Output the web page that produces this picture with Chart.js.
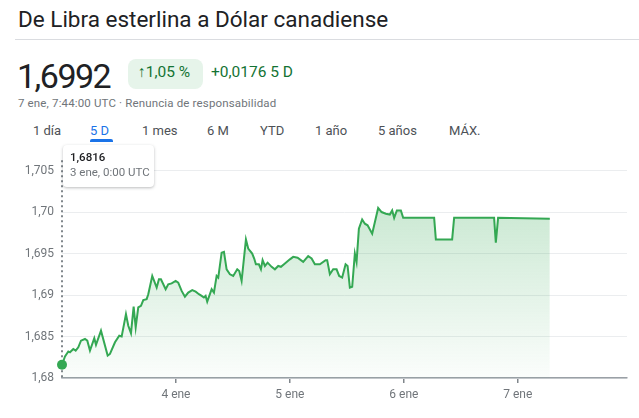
<!DOCTYPE html>
<html>
<head>
<meta charset="utf-8">
<script src="https://cdn.jsdelivr.net/npm/chart.js@4"></script>
<style>
  html, body { margin: 0; padding: 0; background: #fff; }
  body { width: 639px; height: 418px; position: relative; overflow: hidden; font-family: Roboto, Arial, sans-serif; }
  .abs { position: absolute; white-space: nowrap; }
  #title { left: 18px; top: 8px; font-size: 22.5px; line-height: 22.5px; color: #202124; }
  #rule { left: 15px; right: 0; top: 39px; height: 1px; background: #dadce0; }
  #price { left: 17px; top: 59px; font-size: 34px; line-height: 34px; color: #202124; letter-spacing: -1.5px; }
  #badge { left: 128px; top: 59px; width: 75px; height: 30px; border-radius: 8px; background: #e6f4ea; }
  #pct { left: 138px; top: 65px; font-size: 15.5px; line-height: 15.5px; color: #137333; }
  #chg { left: 211px; top: 65px; font-size: 15.5px; line-height: 15.5px; color: #137333; }
  #stamp { left: 18px; top: 98px; font-size: 11.5px; line-height: 11.5px; color: #70757a; letter-spacing: 0.15px; }
  .tab { top: 124px; font-size: 13px; line-height: 13px; color: #4d5156; }
  .tab.on { color: #1a73e8; }
  #underline { left: 90px; top: 139px; width: 23px; height: 3px; border-radius: 2px 2px 0 0; background: #1a73e8; }
  #wrap { left: 0; top: 145px; width: 639px; height: 273px; }
  #tip { left: 63px; top: 145px; width: 91px; height: 42px; background: #fff; border-radius: 4px;
         box-shadow: 0 1px 3px rgba(60,64,67,0.35); z-index: 2; }
  #tipVal { left: 7px; top: 7px; font-size: 11.5px; line-height: 11.5px; color: #202124; font-weight: 500; }
  #tipDate { left: 7px; top: 22px; font-size: 11.5px; line-height: 11.5px; color: #70757a; }
</style>
</head>
<body>
<div class="abs" id="title">De Libra esterlina a Dólar canadiense</div>
<div class="abs" id="rule"></div>
<div class="abs" id="price">1,6992</div>
<div class="abs" id="badge"></div>
<div class="abs" id="pct">↑1,05 %</div>
<div class="abs" id="chg">+0,0176 5 D</div>
<div class="abs" id="stamp">7 ene, 7:44:00 UTC · Renuncia de responsabilidad</div>
<div class="abs tab" style="left:33px">1 día</div>
<div class="abs tab on" style="left:90px">5 D</div>
<div class="abs tab" style="left:142px">1 mes</div>
<div class="abs tab" style="left:207px">6 M</div>
<div class="abs tab" style="left:260px">YTD</div>
<div class="abs tab" style="left:315px">1 año</div>
<div class="abs tab" style="left:378px">5 años</div>
<div class="abs tab" style="left:449px">MÁX.</div>
<div class="abs" id="underline"></div>
<div class="abs" id="wrap"><canvas id="chart"></canvas></div>
<div class="abs" id="tip">
  <div class="abs" id="tipVal">1,6816</div>
  <div class="abs" id="tipDate">3 ene, 0:00 UTC</div>
</div>
<script>
// hours since 3 ene 0:00 UTC
const hours = [
  0, 0.63, 1.33, 1.68, 2.38, 2.88, 3.43, 4.0, 4.84, 5.33,
  5.89, 6.8, 7.16, 8.21, 9.62, 10.1, 11.16, 12.06, 12.57, 13.47,
  13.96, 14.53, 15.09, 15.52, 16.06, 16.63, 17.12, 17.83, 18.17, 19.01,
  19.94, 20.42, 20.84, 21.83, 22.38, 23.09, 23.94, 24.48, 25.2, 25.89,
  26.59, 27.43, 28.15, 28.84, 29.41, 29.89, 30.25, 30.59, 31.52, 32.0,
  32.57, 32.91, 33.62, 34.11, 34.67, 35.37, 36.06, 36.91, 37.33, 37.83,
  38.74, 39.22, 40.06, 40.48, 40.84, 41.47, 41.9, 42.25, 42.74, 43.31,
  44.15, 44.84, 45.54, 46.11, 46.95, 48.0, 48.7, 49.62, 50.8, 51.85,
  52.57, 53.26, 54.32, 55.52, 55.85, 56.42, 57.12, 57.83, 58.38, 59.01,
  59.73, 60.15, 60.63, 61.12, 61.68, 62.04, 62.53, 63.22, 63.79, 64.36,
  65.33, 66.59, 67.31, 68.21, 69.05, 69.54, 69.96, 70.53, 71.37, 71.86,
  78.38, 78.74, 82.17, 82.59, 91.01, 91.37, 91.85, 102.74
];
const rates = [
  1.6816, 1.6826, 1.6832, 1.6831, 1.6835, 1.6833, 1.6837, 1.6845, 1.6847, 1.6845,
  1.6833, 1.6848, 1.6840, 1.6857, 1.6827, 1.6829, 1.6843, 1.6851, 1.6850, 1.6877,
  1.6863, 1.6854, 1.6886, 1.6861, 1.6885, 1.6887, 1.6894, 1.6895, 1.6901, 1.6923,
  1.6909, 1.6919, 1.6919, 1.6907, 1.6913, 1.6914, 1.6917, 1.6915, 1.6905, 1.6898,
  1.6903, 1.6906, 1.6904, 1.6901, 1.6899, 1.6897, 1.6899, 1.6892, 1.6907, 1.6903,
  1.6923, 1.6921, 1.6951, 1.6952, 1.6931, 1.6925, 1.6923, 1.6931, 1.6929, 1.6917,
  1.6967, 1.6956, 1.6950, 1.6944, 1.6937, 1.6937, 1.6931, 1.6942, 1.6935, 1.6939,
  1.6934, 1.6931, 1.6935, 1.6934, 1.6938, 1.6943, 1.6946, 1.6945, 1.6940, 1.6947,
  1.6944, 1.6937, 1.6937, 1.6942, 1.6942, 1.6925, 1.6931, 1.6931, 1.6923, 1.6921,
  1.6937, 1.6935, 1.6909, 1.6910, 1.6950, 1.6940, 1.6980, 1.6991, 1.6986, 1.6984,
  1.6974, 1.7005, 1.7000, 1.6998, 1.6997, 1.7002, 1.6993, 1.7002, 1.7002, 1.6993,
  1.6993, 1.6967, 1.6967, 1.6993, 1.6993, 1.6963, 1.6993, 1.6992
];
const yTicks = [1.68, 1.685, 1.69, 1.695, 1.70, 1.705];
const yTickLabels = ['1,68', '1,685', '1,69', '1,695', '1,70', '1,705'];
const xTicks = [24, 48, 72, 96];
const xTickLabels = ['4 ene', '5 ene', '6 ene', '7 ene'];

const green = '#34a853';

const fillGradient = (context) => {
  const { chart } = context;
  const area = chart.chartArea;
  if (!area) return null;
  const g = chart.ctx.createLinearGradient(0, area.top, 0, area.bottom);
  g.addColorStop(0, 'rgba(52,168,83,0.32)');
  g.addColorStop(1, 'rgba(52,168,83,0.02)');
  return g;
};

// dotted cursor line at the first point
const cursorLine = {
  id: 'cursorLine',
  beforeDatasetsDraw(chart) {
    const { ctx, chartArea, scales } = chart;
    const x = scales.x.getPixelForValue(hours[0]);
    ctx.save();
    ctx.strokeStyle = '#80868b';
    ctx.lineWidth = 2;
    ctx.setLineDash([2, 3]);
    ctx.beginPath();
    ctx.moveTo(x, chartArea.top);
    ctx.lineTo(x, chartArea.bottom);
    ctx.stroke();
    ctx.restore();
  },
};

new Chart(document.getElementById('chart').getContext('2d'), {
  type: 'line',
  data: {
    datasets: [{
      data: hours.map((h, i) => ({ x: h, y: rates[i] })),
      borderColor: green,
      borderWidth: 2,
      backgroundColor: fillGradient,
      fill: 'start',
      tension: 0,
      clip: false,
      pointRadius: (c) => (c.dataIndex === 0 ? 5 : 0),
      pointBackgroundColor: green,
      pointBorderWidth: 0,
    }],
  },
  options: {
    responsive: true,
    maintainAspectRatio: false,
    animation: false,
    layout: { padding: { top: 0, right: 12, left: 0, bottom: 0 } },
    plugins: { legend: { display: false }, tooltip: { enabled: false } },
    scales: {
      x: {
        type: 'linear',
        min: 0,
        max: 119,
        afterBuildTicks: (scale) => { scale.ticks = xTicks.map((v) => ({ value: v })); },
        afterFit: (scale) => { scale.height = 40; },
        grid: { drawOnChartArea: false, drawTicks: true, tickLength: 5, color: '#80868b', lineWidth: 1.5 },
        border: { display: true, color: '#9aa0a6', width: 1.5 },
        ticks: {
          padding: 5,
          color: '#70757a',
          font: { family: 'Roboto', size: 12 },
          maxRotation: 0,
          callback: (v) => xTickLabels[xTicks.indexOf(v)] || '',
        },
      },
      y: {
        min: 1.68,
        max: 1.70625,
        afterBuildTicks: (scale) => { scale.ticks = yTicks.map((v) => ({ value: v })); },
        afterFit: (scale) => { scale.width = 62; },
        grid: { color: '#ebedef', drawTicks: false },
        border: { display: false },
        ticks: {
          padding: 8,
          color: '#70757a',
          font: { family: 'Roboto', size: 12 },
          callback: (v, i) => yTickLabels[i],
        },
      },
    },
  },
  plugins: [cursorLine],
});
</script>
</body>
</html>
